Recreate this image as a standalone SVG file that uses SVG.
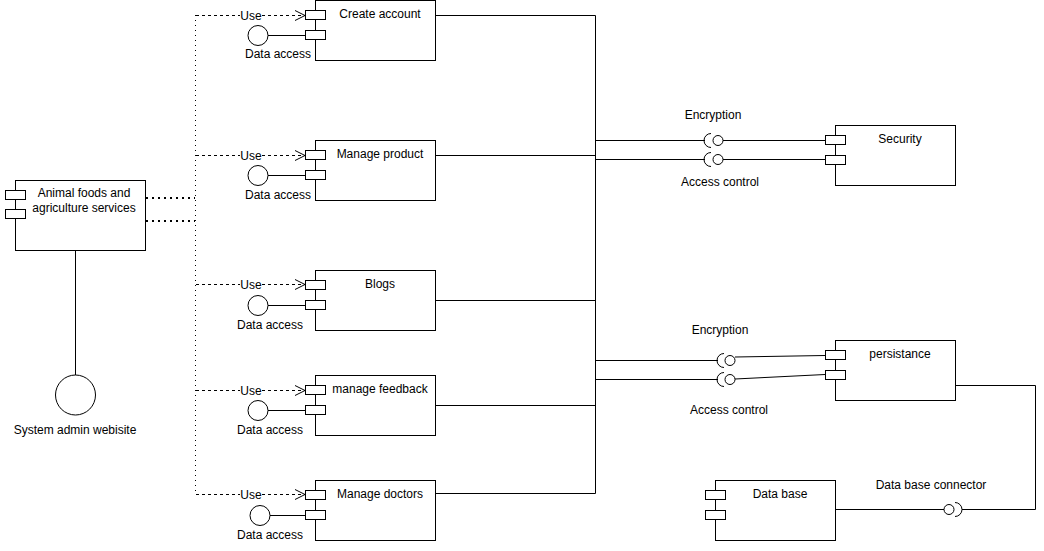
<svg xmlns="http://www.w3.org/2000/svg" width="1044" height="551" viewBox="0 0 1044 551">
<defs>
<style>
text{font-family:"Liberation Sans",Arial,sans-serif;font-size:12px;fill:#000;text-anchor:middle}
.box{fill:#fff;stroke:#000;stroke-width:1}
.ln{fill:none;stroke:#000;stroke-width:1}
.dot{fill:none;stroke:#000;stroke-width:2;stroke-dasharray:2 4}
.dotv{fill:none;stroke:#000;stroke-width:1;stroke-dasharray:1 4}
.dash{fill:none;stroke:#000;stroke-width:1;stroke-dasharray:3 3}
.lbl{fill:#fff;stroke:none}
</style>
<marker id="open" markerWidth="12" markerHeight="12" refX="11" refY="6" orient="auto" markerUnits="userSpaceOnUse">
<path d="M1,1 L11,6 L1,11" fill="none" stroke="#000" stroke-width="1"/>
</marker>
</defs>
<rect width="1044" height="551" fill="#fff"/>

<g id="connectors">
<line class="dot" x1="146" y1="198" x2="195" y2="198"/>
<line class="dot" x1="146" y1="221" x2="195" y2="221"/>
<line class="dotv" x1="195.5" y1="15" x2="195.5" y2="495"/>
<line class="ln" x1="75.5" y1="250" x2="75.5" y2="375"/>
<line class="dash" x1="196" y1="15.5" x2="305" y2="15.5" marker-end="url(#open)"/>
<line class="dash" x1="196" y1="155.5" x2="305" y2="155.5" marker-end="url(#open)"/>
<line class="dash" x1="196" y1="284.5" x2="305" y2="284.5" marker-end="url(#open)"/>
<line class="dash" x1="196" y1="390.5" x2="305" y2="390.5" marker-end="url(#open)"/>
<line class="dash" x1="196" y1="494.5" x2="305" y2="494.5" marker-end="url(#open)"/>
<g>
<rect class="lbl" x="240" y="8" width="22" height="14"/><text x="251" y="19.5">Use</text>
<rect class="lbl" x="240" y="148" width="22" height="14"/><text x="251" y="159.5">Use</text>
<rect class="lbl" x="240" y="277" width="22" height="14"/><text x="251" y="288.5">Use</text>
<rect class="lbl" x="240" y="383" width="22" height="14"/><text x="251" y="394.5">Use</text>
<rect class="lbl" x="240" y="487" width="22" height="14"/><text x="251" y="498.5">Use</text>
</g>
<line class="ln" x1="268" y1="35.5" x2="305" y2="35.5"/>
<line class="ln" x1="268" y1="175.5" x2="305" y2="175.5"/>
<line class="ln" x1="268" y1="305.5" x2="305" y2="305.5"/>
<line class="ln" x1="268" y1="410.5" x2="305" y2="410.5"/>
<line class="ln" x1="270" y1="515.5" x2="305" y2="515.5"/>
<polyline class="ln" points="435,15.5 595.5,15.5 595.5,493.5 435,493.5"/>
<line class="ln" x1="435" y1="155.5" x2="595.5" y2="155.5"/>
<line class="ln" x1="435" y1="300.5" x2="595.5" y2="300.5"/>
<line class="ln" x1="435" y1="405.5" x2="595.5" y2="405.5"/>
<line class="ln" x1="595.5" y1="140.5" x2="705" y2="140.5"/>
<line class="ln" x1="595.5" y1="159.5" x2="705" y2="159.5"/>
<line class="ln" x1="723" y1="140.5" x2="825" y2="140.5"/>
<line class="ln" x1="723" y1="159.5" x2="825" y2="159.5"/>
<line class="ln" x1="595.5" y1="360.5" x2="718" y2="360.5"/>
<line class="ln" x1="595.5" y1="379.5" x2="718" y2="379.5"/>
<line class="ln" x1="735" y1="357" x2="825" y2="355.5"/>
<line class="ln" x1="735" y1="379" x2="825" y2="374.5"/>
<polyline class="ln" points="955,385.5 1035.5,385.5 1035.5,509.5 962,509.5"/>
<line class="ln" x1="835" y1="509.5" x2="944" y2="509.5"/>
</g>

<g id="sockets">
<path class="ln" d="M711,133.5 A7,7 0 0 0 711,147.5"/>
<circle class="box" cx="718" cy="140.5" r="5"/>
<path class="ln" d="M711,152.5 A7,7 0 0 0 711,166.5"/>
<circle class="box" cx="718" cy="159.5" r="5"/>
<path class="ln" d="M724,353.5 A7,7 0 0 0 724,367.5"/>
<circle class="box" cx="730" cy="360.5" r="5"/>
<path class="ln" d="M724,372.5 A7,7 0 0 0 724,386.5"/>
<circle class="box" cx="730" cy="379.5" r="5"/>
<path class="ln" d="M955,502.5 A7,7 0 0 1 955,516.5"/>
<circle class="box" cx="949" cy="509.5" r="5"/>
<text x="713" y="119">Encryption</text>
<text x="720" y="186">Access control</text>
<text x="720" y="334">Encryption</text>
<text x="729" y="414">Access control</text>
<text x="931" y="489">Data base connector</text>
</g>

<g id="main">
<rect class="box" x="15.5" y="180.5" width="130" height="70"/>
<rect class="box" x="5.5" y="190.5" width="20" height="9"/>
<rect class="box" x="5.5" y="209.5" width="20" height="9"/>
<text x="84" y="197">Animal foods and</text>
<text x="84" y="212">agriculture services</text>
</g>

<g id="admin">
<circle class="box" cx="75.5" cy="395" r="20"/>
<text x="75" y="434">System admin webisite</text>
</g>

<g id="create-account">
<rect class="box" x="315.5" y="0.5" width="120" height="60"/>
<rect class="box" x="305.5" y="10.5" width="20" height="9"/>
<rect class="box" x="305.5" y="30.5" width="20" height="9"/>
<text x="380" y="18">Create account</text>
<circle class="box" cx="258" cy="35.5" r="10"/>
<text x="278" y="58">Data access</text>
</g>

<g id="manage-product">
<rect class="box" x="315.5" y="140.5" width="120" height="60"/>
<rect class="box" x="305.5" y="150.5" width="20" height="9"/>
<rect class="box" x="305.5" y="170.5" width="20" height="9"/>
<text x="380" y="158">Manage product</text>
<circle class="box" cx="258" cy="175.5" r="10"/>
<text x="278" y="199">Data access</text>
</g>

<g id="blogs">
<rect class="box" x="315.5" y="270.5" width="120" height="60"/>
<rect class="box" x="305.5" y="280.5" width="20" height="9"/>
<rect class="box" x="305.5" y="300.5" width="20" height="9"/>
<text x="380" y="288">Blogs</text>
<circle class="box" cx="258" cy="305.5" r="10"/>
<text x="270" y="329">Data access</text>
</g>

<g id="manage-feedback">
<rect class="box" x="315.5" y="375.5" width="120" height="60"/>
<rect class="box" x="305.5" y="385.5" width="20" height="9"/>
<rect class="box" x="305.5" y="405.5" width="20" height="9"/>
<text x="380" y="393">manage feedback</text>
<circle class="box" cx="258" cy="410.5" r="10"/>
<text x="270" y="434">Data access</text>
</g>

<g id="manage-doctors">
<rect class="box" x="315.5" y="480.5" width="120" height="60"/>
<rect class="box" x="305.5" y="490.5" width="20" height="9"/>
<rect class="box" x="305.5" y="510.5" width="20" height="9"/>
<text x="380" y="498">Manage doctors</text>
<circle class="box" cx="260" cy="515.5" r="10"/>
<text x="270" y="539">Data access</text>
</g>

<g id="security">
<rect class="box" x="835.5" y="125.5" width="120" height="60"/>
<rect class="box" x="825.5" y="135.5" width="20" height="9"/>
<rect class="box" x="825.5" y="155.5" width="20" height="9"/>
<text x="900" y="143">Security</text>
</g>

<g id="persistance">
<rect class="box" x="835.5" y="340.5" width="120" height="60"/>
<rect class="box" x="825.5" y="350.5" width="20" height="9"/>
<rect class="box" x="825.5" y="370.5" width="20" height="9"/>
<text x="900" y="358">persistance</text>
</g>

<g id="database">
<rect class="box" x="715.5" y="480.5" width="120" height="60"/>
<rect class="box" x="705.5" y="490.5" width="20" height="9"/>
<rect class="box" x="705.5" y="510.5" width="20" height="9"/>
<text x="780" y="498">Data base</text>
</g>
</svg>
